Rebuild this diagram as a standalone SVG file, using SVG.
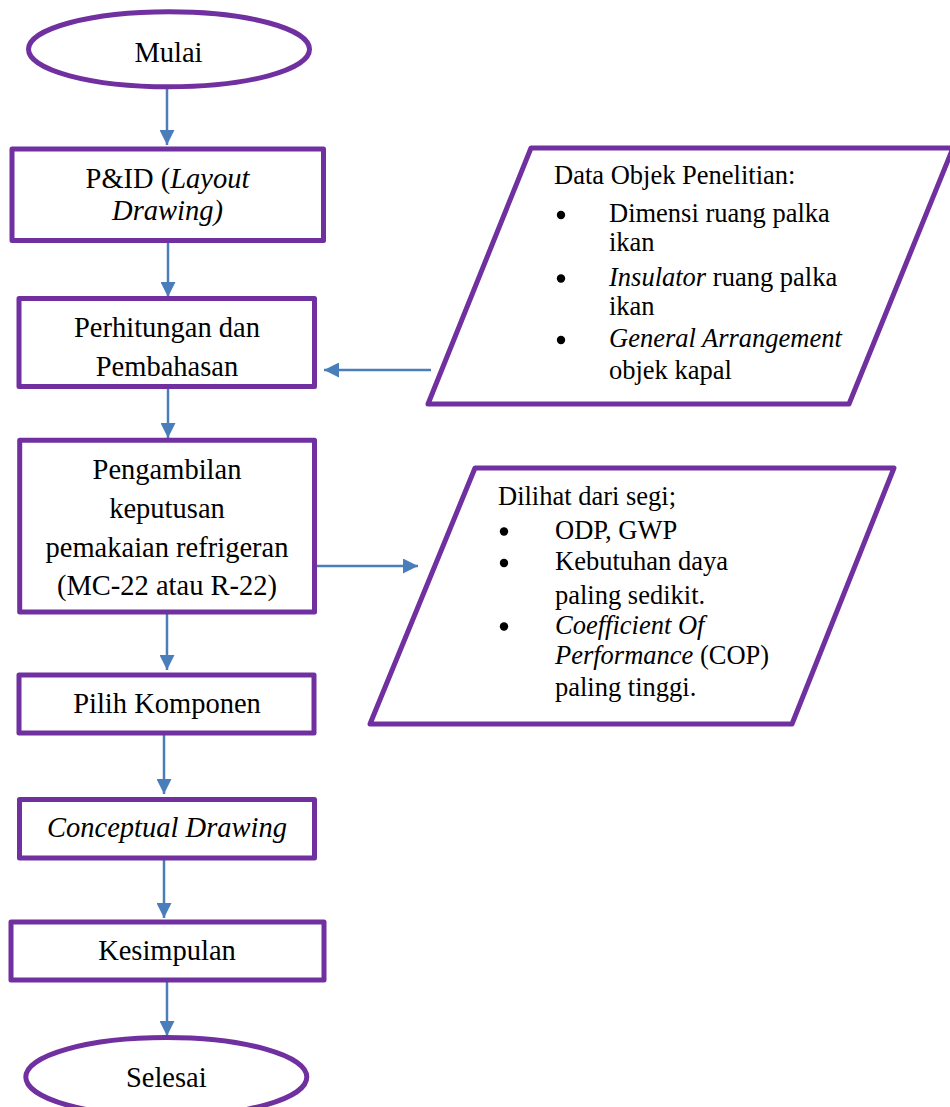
<svg xmlns="http://www.w3.org/2000/svg" width="950" height="1107" viewBox="0 0 950 1107">
<style>
.shape{fill:#fff;stroke:#7030A0;stroke-width:5;stroke-linejoin:round}
.conn{fill:none;stroke:#4A7EBB;stroke-width:2.5}
.t{font-family:"Liberation Serif","Times New Roman",serif;font-size:28.5px;fill:#000;text-anchor:middle}
.p{font-family:"Liberation Serif","Times New Roman",serif;font-size:26.5px;fill:#000}
.i{font-style:italic}
.b{fill:#000}
</style>
<defs>
<marker id="ah" markerUnits="userSpaceOnUse" markerWidth="15" markerHeight="15" refX="15" refY="7.5" orient="auto">
<path d="M0,0 L15,7.5 L0,15 z" fill="#4A7EBB"/>
</marker>
</defs>
<rect width="950" height="1107" fill="#fff"/>
<g id="connectors">
<line class="conn" x1="167" y1="89" x2="167" y2="145" marker-end="url(#ah)"/>
<line class="conn" x1="168" y1="242" x2="168" y2="297" marker-end="url(#ah)"/>
<line class="conn" x1="168" y1="388" x2="168" y2="438" marker-end="url(#ah)"/>
<line class="conn" x1="167" y1="613" x2="167" y2="670" marker-end="url(#ah)"/>
<line class="conn" x1="164" y1="734" x2="164" y2="794" marker-end="url(#ah)"/>
<line class="conn" x1="164" y1="860" x2="164" y2="918" marker-end="url(#ah)"/>
<line class="conn" x1="167" y1="982" x2="167" y2="1036" marker-end="url(#ah)"/>
<line class="conn" x1="312" y1="566" x2="418" y2="566" marker-end="url(#ah)"/>
<line class="conn" x1="431" y1="370" x2="324" y2="370" marker-end="url(#ah)"/>
</g>
<g id="mulai">
<ellipse class="shape" cx="169" cy="49.3" rx="140.5" ry="37.5"/>
<text class="t" x="168.5" y="62">Mulai</text>
</g>
<g id="pid">
<rect class="shape" x="12" y="149" width="311.5" height="91.5"/>
<text class="t" x="167.5" y="188">P&amp;ID (<tspan class="i">Layout</tspan></text>
<text class="t i" x="167.5" y="220">Drawing)</text>
</g>
<g id="perhitungan">
<rect class="shape" x="19" y="298.5" width="295.5" height="88"/>
<text class="t" x="167" y="337">Perhitungan dan</text>
<text class="t" x="167" y="376">Pembahasan</text>
</g>
<g id="pengambilan">
<rect class="shape" x="19.7" y="440.3" width="294.8" height="171.7"/>
<text class="t" x="167" y="479">Pengambilan</text>
<text class="t" x="167" y="518">keputusan</text>
<text class="t" x="167" y="556.5">pemakaian refrigeran</text>
<text class="t" x="167" y="595">(MC-22 atau R-22)</text>
</g>
<g id="pilih">
<rect class="shape" x="19" y="675" width="295" height="58"/>
<text class="t" x="167" y="713">Pilih Komponen</text>
</g>
<g id="conceptual">
<rect class="shape" x="19.5" y="799.5" width="295" height="58.5"/>
<text class="t i" x="167" y="837">Conceptual Drawing</text>
</g>
<g id="kesimpulan">
<rect class="shape" x="11" y="922" width="313" height="58"/>
<text class="t" x="167" y="960">Kesimpulan</text>
</g>
<g id="selesai">
<ellipse class="shape" cx="166.3" cy="1077" rx="140.5" ry="39.5"/>
<text class="t" x="166.3" y="1087">Selesai</text>
</g>
<g id="data">
<polygon class="shape" points="531,148 953,148 849,404 428,404"/>
<text class="p" x="554" y="184">Data Objek Penelitian:</text>
<circle class="b" cx="561" cy="215" r="4.2"/>
<text class="p" x="609" y="222">Dimensi ruang palka</text>
<text class="p" x="609" y="250.5">ikan</text>
<circle class="b" cx="561" cy="278.5" r="4.2"/>
<text class="p" x="609" y="285.5"><tspan class="i">Insulator</tspan> ruang palka</text>
<text class="p" x="609" y="315">ikan</text>
<circle class="b" cx="561" cy="340" r="4.2"/>
<text class="p i" x="609" y="347">General Arrangement</text>
<text class="p" x="609" y="378.5">objek kapal</text>
</g>
<g id="dilihat">
<polygon class="shape" points="475,468 894,468 792,724 370,724"/>
<text class="p" x="498" y="505">Dilihat dari segi;</text>
<circle class="b" cx="504" cy="531.5" r="4.2"/>
<text class="p" x="555" y="538.5">ODP, GWP</text>
<circle class="b" cx="504" cy="563" r="4.2"/>
<text class="p" x="555" y="570">Kebutuhan daya</text>
<text class="p" x="555" y="604">paling sedikit.</text>
<circle class="b" cx="504" cy="626.5" r="4.2"/>
<text class="p i" x="555" y="633.5">Coefficient Of</text>
<text class="p" x="555" y="664"><tspan class="i">Performance</tspan> (COP)</text>
<text class="p" x="555" y="695.5">paling tinggi.</text>
</g>
</svg>
